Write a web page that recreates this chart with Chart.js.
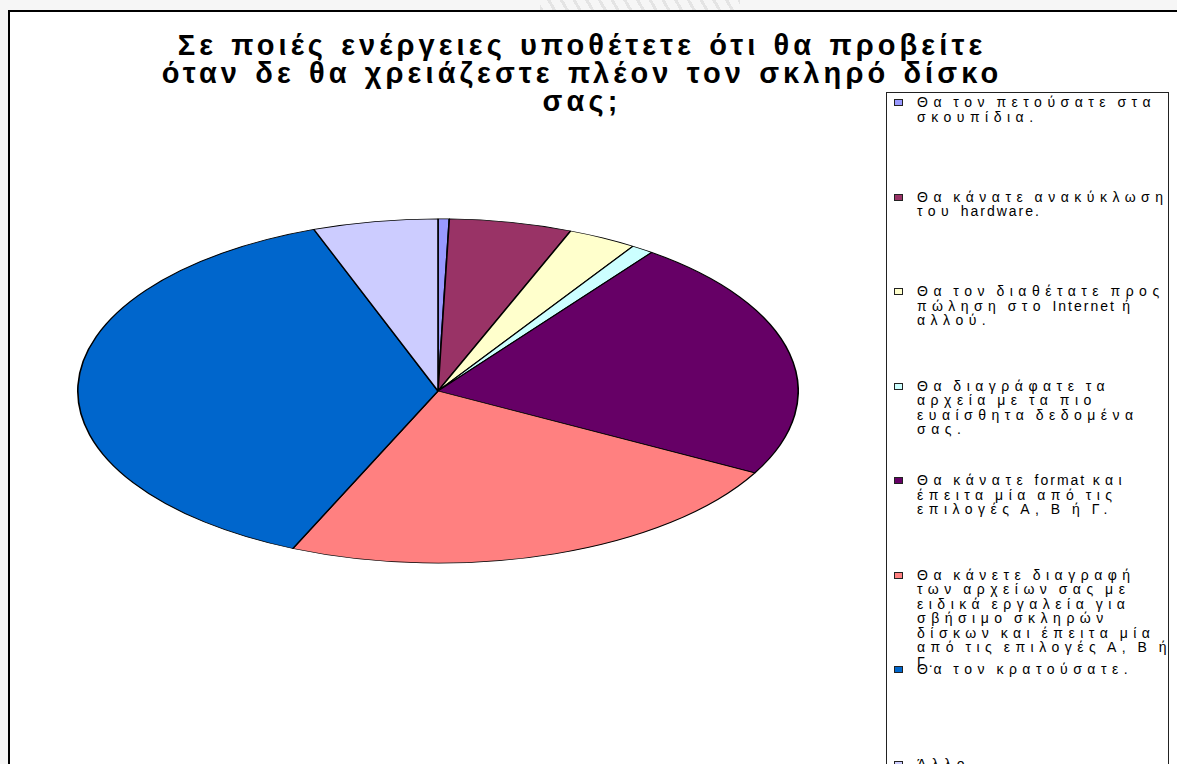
<!DOCTYPE html>
<html lang="el">
<head>
<meta charset="utf-8">
<script src="https://cdn.jsdelivr.net/npm/chart.js@4.4.1/dist/chart.umd.min.js"></script>
<style>
  html, body { margin: 0; padding: 0; }
  body {
    width: 1177px; height: 764px; overflow: hidden; position: relative;
    background: #f6f6f6;
    font-family: "Liberation Sans", Arial, sans-serif; color: #000;
  }
  #mark {
    position: absolute; left: 540px; top: 0; width: 200px; height: 10px;
    background: repeating-linear-gradient(60deg, #e4e4e4 0 3px, #f6f6f6 3px 11px);
  }
  #frame {
    position: absolute; left: 8px; top: 10px; width: 1200px; height: 800px;
    background: #fff; border-top: 2px solid #000; border-left: 2px solid #000;
  }
  #title {
    position: absolute; left: 60px; width: 1044px; top: 31px;
    text-align: center; font-weight: bold; font-size: 29px; line-height: 28px;
    letter-spacing: 4.1px; word-spacing: 2px;
  }
  #pieBox { position: absolute; left: 77px; top: 30px; width: 722px; height: 722px; }
  #legend {
    position: absolute; left: 886px; top: 92px; width: 281px; height: 720px;
    border: 1px solid #222; background: #fff;
  }
  .item { position: absolute; left: 0; width: 100%; }
  .swatch { position: absolute; left: 7px; top: 4px; width: 7px; height: 5px; border: 1px solid #222; }
  .text {
    position: absolute; left: 30px; top: 0; white-space: nowrap;
    font-size: 14px; line-height: 14.5px; letter-spacing: 5.5px; word-spacing: -3px;
  }
  .text .lat { letter-spacing: 2px; }
</style>
</head>
<body>
<div id="mark"></div>
<div id="frame"></div>
<div id="title"></div>
<div id="pieBox"><canvas id="pie"></canvas></div>
<div id="legend"></div>

<script>
// chart title, one entry per line
const titleLines = [
  'Σε ποιές ενέργειες υποθέτετε ότι θα προβείτε',
  'όταν δε θα χρειάζεστε πλέον τον σκληρό δίσκο',
  'σας;'
];

// answers, wrapped the way the legend shows them
const answers = [
  ['Θα τον πετούσατε στα', 'σκουπίδια.'],
  ['Θα κάνατε ανακύκλωση', 'του hardware.'],
  ['Θα τον διαθέτατε προς', 'πώληση στο Internet ή', 'αλλού.'],
  ['Θα διαγράφατε τα', 'αρχεία με τα πιο', 'ευαίσθητα δεδομένα', 'σας.'],
  ['Θα κάνατε format και', 'έπειτα μία από τις', 'επιλογές Α, Β ή Γ.'],
  ['Θα κάνετε διαγραφή', 'των αρχείων σας με', 'ειδικά εργαλεία για', 'σβήσιμο σκληρών',
   'δίσκων και έπειτα μία', 'από τις επιλογές Α, Β ή', 'Γ.'],
  ['Θα τον κρατούσατε.'],
  ['Άλλο']
];

// share of responses (%)
const shares = [0.5, 5.5, 3.1, 1.0, 22.8, 23.7, 37.8, 5.6];

const sliceColors = ['#9999FF', '#993366', '#FFFFCC', '#CCFFFF', '#660066', '#FF8080', '#0066CC', '#CCCCFF'];

document.getElementById('title').innerHTML = titleLines.join('<br>');

// legend: fixed slots, long entries just run over into the next one
const legend = document.getElementById('legend');
const slot = 94.5;
answers.forEach((lines, i) => {
  const item = document.createElement('div');
  item.className = 'item';
  item.style.top = (2 + i * slot) + 'px';
  const sw = document.createElement('span');
  sw.className = 'swatch';
  sw.style.background = sliceColors[i];
  const txt = document.createElement('div');
  txt.className = 'text';
  txt.innerHTML = lines.map(l => l.replace(/[A-Za-z]+/g, m => '<span class="lat">' + m + '</span>')).join('<br>');
  item.appendChild(sw);
  item.appendChild(txt);
  legend.appendChild(item);
});

// flattens the round pie into an ellipse
const squash = {
  id: 'squash',
  beforeDatasetsDraw(chart, args, opts) {
    const { ctx, chartArea: a } = chart;
    const cx = (a.left + a.right) / 2, cy = (a.top + a.bottom) / 2;
    ctx.save();
    ctx.translate(cx, cy);
    ctx.scale(1, opts.ratio);
    ctx.translate(-cx, -cy);
  },
  afterDatasetsDraw(chart) {
    chart.ctx.restore();
  }
};

new Chart(document.getElementById('pie'), {
  type: 'pie',
  data: {
    labels: answers.map(l => l.join(' ')),
    datasets: [{
      data: shares,
      backgroundColor: sliceColors,
      borderColor: '#000',
      borderWidth: 1.6
    }]
  },
  options: {
    responsive: true,
    maintainAspectRatio: false,
    animation: false,
    events: [],
    layout: { padding: 0 },
    plugins: {
      legend: { display: false },
      title: { display: false },
      tooltip: { enabled: false },
      squash: { ratio: 172 / 360 }
    }
  },
  plugins: [squash]
});
</script>
</body>
</html>
